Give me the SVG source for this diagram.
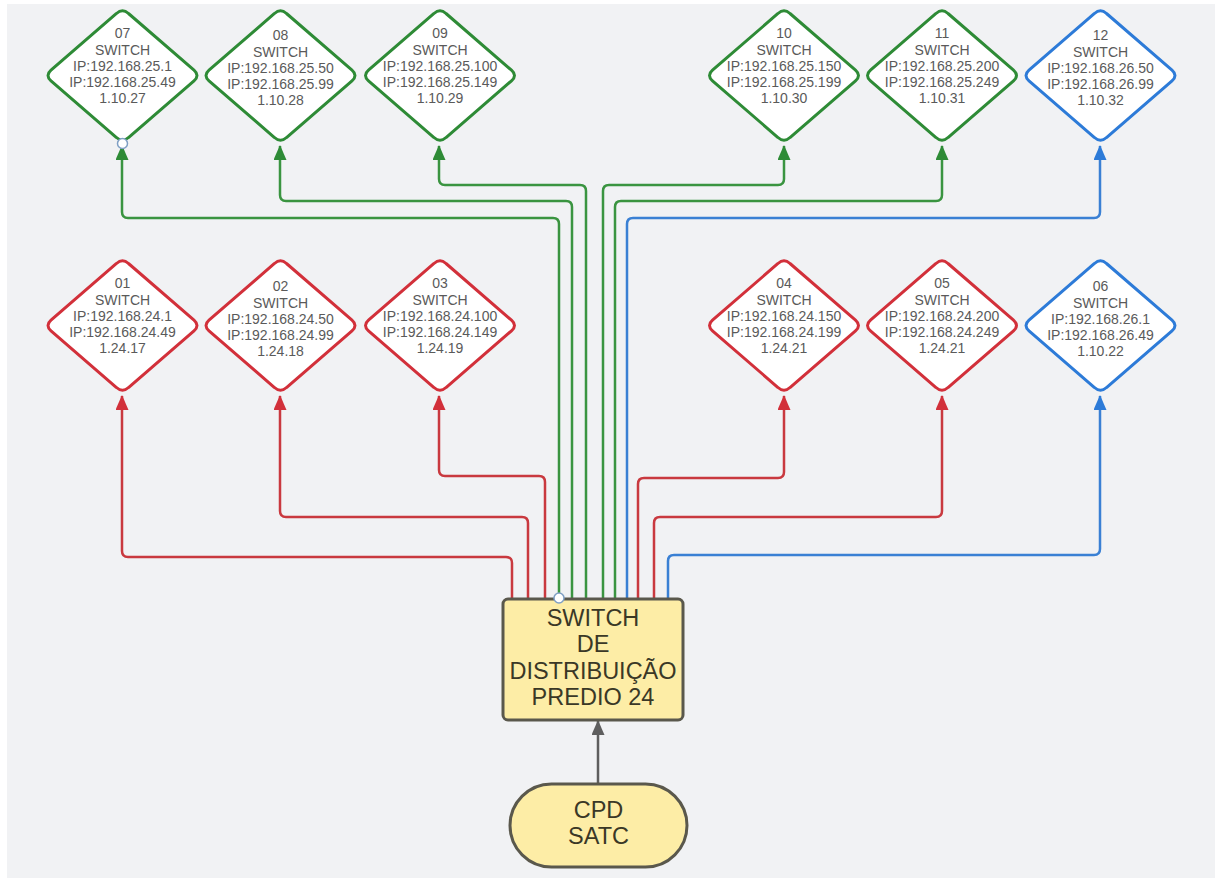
<svg xmlns="http://www.w3.org/2000/svg" width="1215" height="878" viewBox="0 0 1215 878">
<style>
.dia{fill:#fff;stroke-width:3}
.g{stroke:#2e8b36}
.r{stroke:#d2303a}
.b{stroke:#2d7bd8}
.lbl{font-family:"Liberation Sans",Arial,sans-serif;font-size:14px;fill:#5a5a5a;text-anchor:middle}
.big{font-family:"Liberation Sans",Arial,sans-serif;font-size:23.5px;fill:#3a3826;text-anchor:middle}
.cg{fill:none;stroke:#3a9440;stroke-width:2.5}
.cr{fill:none;stroke:#c9393f;stroke-width:2.5}
.cb{fill:none;stroke:#3a80d4;stroke-width:2.5}
.handle{fill:#fff;stroke:#7f9fc4;stroke-width:1.5}
</style>
<defs>
<path id="dia" d="M6,-62 L71.5,-5.3 Q77.5,0 71.5,5.3 L6,62 Q0,67.5 -6,62 L-71.5,5.3 Q-77.5,0 -71.5,-5.3 L-6,-62 Q0,-67.5 6,-62 Z"/>
<marker id="ag" markerUnits="userSpaceOnUse" markerWidth="16" markerHeight="14" refX="14" refY="6.5" orient="auto"><path d="M0,0 L15,6.5 L0,13 Z" fill="#2e8b36"/></marker>
<marker id="ar" markerUnits="userSpaceOnUse" markerWidth="16" markerHeight="14" refX="14" refY="6.5" orient="auto"><path d="M0,0 L15,6.5 L0,13 Z" fill="#d2303a"/></marker>
<marker id="ab" markerUnits="userSpaceOnUse" markerWidth="16" markerHeight="14" refX="14" refY="6.5" orient="auto"><path d="M0,0 L15,6.5 L0,13 Z" fill="#2d7bd8"/></marker>
<marker id="ak" markerUnits="userSpaceOnUse" markerWidth="16" markerHeight="14" refX="14" refY="6.5" orient="auto"><path d="M0,0 L15,6.5 L0,13 Z" fill="#5e5e5e"/></marker>
</defs>
<rect x="0" y="0" width="1215" height="878" fill="#ffffff"/>
<rect x="7" y="4" width="1208" height="874" fill="#f1f2f4"/>

<g id="connectors">
<path class="cg" marker-end="url(#ag)" d="M559,599 V224 Q559,218 553,218 H128 Q122,218 122,212 V146"/>
<path class="cg" marker-end="url(#ag)" d="M572,599 V207 Q572,201 566,201 H286 Q280,201 280,195 V146"/>
<path class="cg" marker-end="url(#ag)" d="M586,599 V191 Q586,185 580,185 H445 Q439,185 439,179 V146"/>
<path class="cg" marker-end="url(#ag)" d="M603,599 V191 Q603,185 609,185 H778 Q784,185 784,179 V146"/>
<path class="cg" marker-end="url(#ag)" d="M615,599 V207 Q615,201 621,201 H936 Q942,201 942,195 V146"/>
<path class="cb" marker-end="url(#ab)" d="M627,599 V224 Q627,218 633,218 H1094 Q1100,218 1100,212 V146"/>
<path class="cr" marker-end="url(#ar)" d="M512,599 V563 Q512,557 506,557 H128 Q122,557 122,551 V396"/>
<path class="cr" marker-end="url(#ar)" d="M528,599 V523 Q528,517 522,517 H286 Q280,517 280,511 V396"/>
<path class="cr" marker-end="url(#ar)" d="M545,599 V482 Q545,476 539,476 H445 Q439,476 439,470 V396"/>
<path class="cr" marker-end="url(#ar)" d="M638,599 V484 Q638,478 644,478 H778 Q784,478 784,472 V396"/>
<path class="cr" marker-end="url(#ar)" d="M654,599 V523 Q654,517 660,517 H936 Q942,517 942,511 V396"/>
<path class="cb" marker-end="url(#ab)" d="M668,599 V561 Q668,555 674,555 H1094 Q1100,555 1100,549 V396"/>
<path fill="none" stroke="#5e5e5e" stroke-width="2.5" marker-end="url(#ak)" d="M598,784 V721"/>
</g>

<g id="n07"><use href="#dia" class="dia g" x="122.5" y="75.5"/>
<text class="lbl" x="122.5"><tspan x="122.5" y="38">07</tspan><tspan x="122.5" y="55">SWITCH</tspan><tspan x="122.5" y="71">IP:192.168.25.1</tspan><tspan x="122.5" y="87">IP:192.168.25.49</tspan><tspan x="122.5" y="103">1.10.27</tspan></text></g>
<g id="n08"><use href="#dia" class="dia g" x="280.5" y="75.5"/>
<text class="lbl"><tspan x="280.5" y="40">08</tspan><tspan x="280.5" y="57">SWITCH</tspan><tspan x="280.5" y="73">IP:192.168.25.50</tspan><tspan x="280.5" y="89">IP:192.168.25.99</tspan><tspan x="280.5" y="105">1.10.28</tspan></text></g>
<g id="n09"><use href="#dia" class="dia g" x="440" y="75.5"/>
<text class="lbl"><tspan x="440" y="38">09</tspan><tspan x="440" y="55">SWITCH</tspan><tspan x="440" y="71">IP:192.168.25.100</tspan><tspan x="440" y="87">IP:192.168.25.149</tspan><tspan x="440" y="103">1.10.29</tspan></text></g>
<g id="n10"><use href="#dia" class="dia g" x="784" y="75.5"/>
<text class="lbl"><tspan x="784" y="38">10</tspan><tspan x="784" y="55">SWITCH</tspan><tspan x="784" y="71">IP:192.168.25.150</tspan><tspan x="784" y="87">IP:192.168.25.199</tspan><tspan x="784" y="103">1.10.30</tspan></text></g>
<g id="n11"><use href="#dia" class="dia g" x="942" y="75.5"/>
<text class="lbl"><tspan x="942" y="38">11</tspan><tspan x="942" y="55">SWITCH</tspan><tspan x="942" y="71">IP:192.168.25.200</tspan><tspan x="942" y="87">IP:192.168.25.249</tspan><tspan x="942" y="103">1.10.31</tspan></text></g>
<g id="n12"><use href="#dia" class="dia b" x="1100.5" y="75.5"/>
<text class="lbl"><tspan x="1100.5" y="40">12</tspan><tspan x="1100.5" y="57">SWITCH</tspan><tspan x="1100.5" y="73">IP:192.168.26.50</tspan><tspan x="1100.5" y="89">IP:192.168.26.99</tspan><tspan x="1100.5" y="105">1.10.32</tspan></text></g>

<g id="n01"><use href="#dia" class="dia r" x="122.5" y="325.5"/>
<text class="lbl"><tspan x="122.5" y="288">01</tspan><tspan x="122.5" y="305">SWITCH</tspan><tspan x="122.5" y="321">IP:192.168.24.1</tspan><tspan x="122.5" y="337">IP:192.168.24.49</tspan><tspan x="122.5" y="353">1.24.17</tspan></text></g>
<g id="n02"><use href="#dia" class="dia r" x="280.5" y="325.5"/>
<text class="lbl"><tspan x="280.5" y="291">02</tspan><tspan x="280.5" y="308">SWITCH</tspan><tspan x="280.5" y="324">IP:192.168.24.50</tspan><tspan x="280.5" y="340">IP:192.168.24.99</tspan><tspan x="280.5" y="356">1.24.18</tspan></text></g>
<g id="n03"><use href="#dia" class="dia r" x="440" y="325.5"/>
<text class="lbl"><tspan x="440" y="288">03</tspan><tspan x="440" y="305">SWITCH</tspan><tspan x="440" y="321">IP:192.168.24.100</tspan><tspan x="440" y="337">IP:192.168.24.149</tspan><tspan x="440" y="353">1.24.19</tspan></text></g>
<g id="n04"><use href="#dia" class="dia r" x="784" y="325.5"/>
<text class="lbl"><tspan x="784" y="288">04</tspan><tspan x="784" y="305">SWITCH</tspan><tspan x="784" y="321">IP:192.168.24.150</tspan><tspan x="784" y="337">IP:192.168.24.199</tspan><tspan x="784" y="353">1.24.21</tspan></text></g>
<g id="n05"><use href="#dia" class="dia r" x="942" y="325.5"/>
<text class="lbl"><tspan x="942" y="288">05</tspan><tspan x="942" y="305">SWITCH</tspan><tspan x="942" y="321">IP:192.168.24.200</tspan><tspan x="942" y="337">IP:192.168.24.249</tspan><tspan x="942" y="353">1.24.21</tspan></text></g>
<g id="n06"><use href="#dia" class="dia b" x="1100.5" y="325.5"/>
<text class="lbl"><tspan x="1100.5" y="291">06</tspan><tspan x="1100.5" y="308">SWITCH</tspan><tspan x="1100.5" y="324">IP:192.168.26.1</tspan><tspan x="1100.5" y="340">IP:192.168.26.49</tspan><tspan x="1100.5" y="356">1.10.22</tspan></text></g>

<g id="switch-distribuicao">
<rect x="503" y="599" width="180" height="121" rx="5" fill="#fdeda6" stroke="#5a584c" stroke-width="3"/>
<text class="big"><tspan x="593" y="626">SWITCH</tspan><tspan x="593" y="652">DE</tspan><tspan x="593" y="678.5">DISTRIBUIÇÃO</tspan><tspan x="593" y="705">PREDIO 24</tspan></text>
</g>
<g id="cpd-satc">
<rect x="510" y="784" width="177" height="83" rx="41.5" fill="#fdeda6" stroke="#5a584c" stroke-width="3"/>
<text class="big"><tspan x="598.5" y="817.5">CPD</tspan><tspan x="598.5" y="843.5">SATC</tspan></text>
</g>
<g id="handles">
<circle class="handle" cx="122.5" cy="143.5" r="5"/>
<circle class="handle" cx="559" cy="598" r="5"/>
</g>
</svg>
